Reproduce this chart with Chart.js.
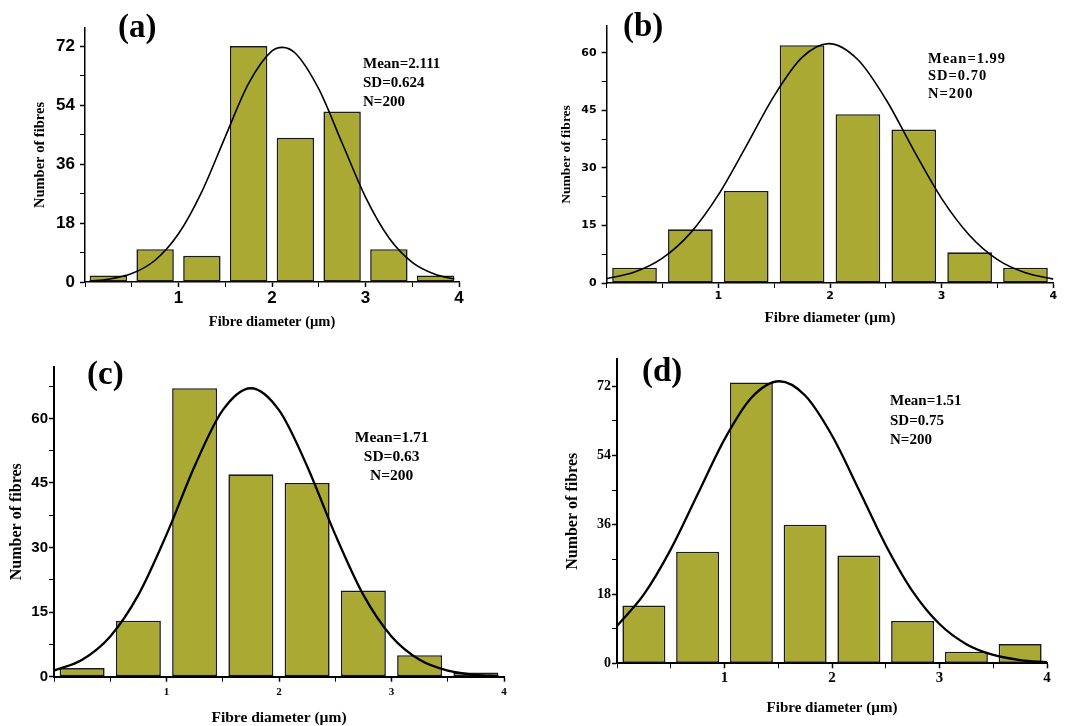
<!DOCTYPE html>
<html><head><meta charset="utf-8">
<script src="https://cdn.jsdelivr.net/npm/chart.js@4.4.1/dist/chart.umd.min.js"></script>
<style>
html,body{margin:0;padding:0;background:#fff;}
#wrap{position:relative;width:1074px;height:726px;overflow:hidden;background:#fff;}
canvas{position:absolute;left:0;top:0;}
.lbl{position:absolute;font-family:"Liberation Serif","Times New Roman",serif;font-weight:bold;color:#000;white-space:nowrap;}
</style></head><body><div id="wrap">
<canvas id="ca" width="1074" height="726"></canvas>
<canvas id="cb" width="1074" height="726"></canvas>
<canvas id="cc" width="1074" height="726"></canvas>
<canvas id="cd" width="1074" height="726"></canvas>
<div class="lbl" style="left:118px;top:10px;font-size:33px;line-height:33px">(a)</div>
<div class="lbl" style="left:623px;top:9px;font-size:33px;line-height:33px">(b)</div>
<div class="lbl" style="left:87px;top:357px;font-size:33px;line-height:33px">(c)</div>
<div class="lbl" style="left:642px;top:354px;font-size:33px;line-height:33px">(d)</div>
<div class="lbl" style="left:363px;top:53.5px;font-size:15px;line-height:19px">Mean=2.111<br>SD=0.624<br>N=200</div>
<div class="lbl" style="left:928px;top:49.5px;font-size:14.5px;line-height:17.5px;letter-spacing:1px">Mean=1.99<br>SD=0.70<br>N=200</div>
<div class="lbl" style="left:331.7px;width:120px;text-align:center;top:427px;font-size:15.5px;line-height:19px">Mean=1.71<br>SD=0.63<br>N=200</div>
<div class="lbl" style="left:890px;top:391px;font-size:15px;line-height:19.5px">Mean=1.51<br>SD=0.75<br>N=200</div>
</div>
<script>
// ---- data ----
const binCenters = [0.25, 0.75, 1.25, 1.75, 2.25, 2.75, 3.25, 3.75];
const countsA = [2, 10, 8, 72, 44, 52, 10, 2];
const countsB = [4, 14, 24, 62, 44, 40, 8, 4];
const countsC = [2, 13, 67, 47, 45, 20, 5, 1];
const countsD = [15, 29, 73, 36, 28, 11, 3, 5];

const fitXA = [0.05, 0.25, 0.5, 0.75, 1.0, 1.25, 1.5, 1.75, 2.0, 2.11, 2.25, 2.5, 2.75, 3.0, 3.25, 3.5, 3.75, 3.95];
const fitYA = [0.31, 0.84, 2.56, 6.64, 14.7, 27.6, 44.3, 60.6, 70.5, 71.6, 69.8, 58.9, 42.4, 25.9, 13.5, 6.0, 2.28, 0.93];
const fitXB = [0, 0.25, 0.5, 0.75, 1.0, 1.25, 1.5, 1.75, 1.99, 2.25, 2.5, 2.75, 3.0, 3.25, 3.5, 3.75, 4.0];
const fitYB = [1.1, 2.84, 6.48, 13.0, 22.96, 35.7, 48.8, 58.8, 62.4, 58.2, 47.9, 34.6, 22.0, 12.4, 6.09, 2.65, 1.01];
const fitXC = [0, 0.25, 0.5, 0.75, 1.0, 1.25, 1.5, 1.75, 2.0, 2.25, 2.5, 2.75, 3.0, 3.25, 3.5, 3.75, 3.95];
const fitYC = [1.42, 3.94, 9.36, 19.0, 33.0, 48.9, 61.9, 67.0, 61.9, 48.9, 33.0, 19.0, 9.36, 3.94, 1.42, 0.43, 0.15];
const fitXD = [0, 0.25, 0.5, 0.75, 1.0, 1.25, 1.51, 1.75, 2.0, 2.25, 2.5, 2.75, 3.0, 3.25, 3.5, 3.75, 4.0];
const fitYD = [9.7, 17.9, 29.6, 43.9, 58.2, 69.0, 73.3, 69.6, 59.2, 45.1, 30.7, 18.7, 10.2, 4.97, 2.17, 0.85, 0.30];

const xTicks = [0, 0.5, 1, 1.5, 2, 2.5, 3, 3.5, 4];
const xTickLabels = ['', '', '1', '', '2', '', '3', '', '4'];
const yTicks72 = [0, 9, 18, 27, 36, 45, 54, 63, 72];
const yTickLabels72 = ['0', '', '18', '', '36', '', '54', '', '72'];
const yTicks60 = [0, 7.5, 15, 22.5, 30, 37.5, 45, 52.5, 60, 67.5];
const yTickLabels60 = ['0', '', '15', '', '30', '', '45', '', '60', ''];

const xTitle = 'Fibre diameter (\u00b5m)';
const yTitle = 'Number of fibres';

const SANS = '"Liberation Sans", Arial, sans-serif';
const WIDE = '"DejaVu Sans", Verdana, sans-serif';
const SERIF = '"Liberation Serif", "Times New Roman", serif';

function makePanel(id, p) {
  const yT = p.yTicks.filter(v => v <= p.ymax);
  const yL = p.yLabels.slice(0, yT.length);
  new Chart(document.getElementById(id), {
    type: 'bar',
    data: {
      datasets: [
        {
          type: 'line',
          data: p.fitX.map((x, i) => ({x: x, y: p.fitY[i]})),
          borderColor: '#000', borderWidth: p.lw, pointRadius: 0,
          cubicInterpolationMode: 'monotone', fill: false, order: 0
        },
        {
          type: 'bar',
          data: binCenters.map((x, i) => ({x: x, y: p.counts[i]})),
          backgroundColor: '#a9a934', borderColor: '#1a1a1a', borderWidth: 1.6,
          borderSkipped: false, barPercentage: 0.8, categoryPercentage: 1, order: 1
        }
      ]
    },
    options: {
      responsive: false, animation: false, devicePixelRatio: 1,
      layout: {padding: {left: p.L - p.Wy, top: p.T, right: 1074 - p.R, bottom: 726 - p.B - p.Hx}},
      plugins: {legend: {display: false}, tooltip: {enabled: false}},
      scales: {
        x: {
          type: 'linear', min: 0, max: 4, offset: false,
          afterBuildTicks: s => { s.ticks = xTicks.map(v => ({value: v})); },
          afterFit: s => { s.height = p.Hx; },
          grid: {display: true, offset: false, drawOnChartArea: false, drawTicks: true, tickLength: 5,
                 tickColor: '#000', tickWidth: c => (xTickLabels[c.index] ? 1.5 : 1)},
          border: {display: true, color: '#000', width: p.bw},
          ticks: {autoSkip: false, maxRotation: 0, padding: p.xPad, color: '#000',
                  font: {family: p.xFont, weight: 'bold', size: p.xSize},
                  callback: (v, i) => xTickLabels[i]},
          title: {display: true, text: xTitle, color: '#000', padding: 0,
                  font: {family: SERIF, weight: 'bold', size: p.xtSize, lineHeight: 1}}
        },
        y: {
          type: 'linear', min: 0, max: p.ymax,
          afterBuildTicks: s => { s.ticks = yT.map(v => ({value: v})); },
          afterFit: s => { s.width = p.Wy; },
          grid: {display: true, drawOnChartArea: false, drawTicks: true, tickLength: 5,
                 tickColor: '#000', tickWidth: c => (yL[c.index] ? 1.5 : 1)},
          border: {display: true, color: '#000', width: p.bw},
          ticks: {padding: p.yPad, color: '#000',
                  font: {family: p.yFont, weight: 'bold', size: p.ySize},
                  callback: (v, i) => yL[i]},
          title: {display: true, text: yTitle, color: '#000', padding: 0,
                  font: {family: SERIF, weight: 'bold', size: p.ytSize, lineHeight: 1}}
        }
      }
    }
  });
}

makePanel('ca', {counts: countsA, fitX: fitXA, fitY: fitYA, yTicks: yTicks72, yLabels: yTickLabels72,
  ymax: 77.5, L: 85, R: 459, T: 28, B: 282, Wy: 52.25, Hx: 47.25, lw: 1.6, bw: 1.5,
  xFont: SANS, xSize: 17, xPad: 1, yFont: SANS, ySize: 17, yPad: 5, xtSize: 14.5, ytSize: 14.5});
makePanel('cb', {counts: countsB, fitX: fitXB, fitY: fitYB, yTicks: yTicks60, yLabels: yTickLabels60,
  ymax: 67, L: 606.6, R: 1053.4, T: 26, B: 283, Wy: 46.35, Hx: 42.5, lw: 1.6, bw: 1.5,
  xFont: WIDE, xSize: 11, xPad: 2, yFont: WIDE, ySize: 11, yPad: 5, xtSize: 15, ytSize: 13.5});
makePanel('cc', {counts: countsC, fitX: fitXC, fitY: fitYC, yTicks: yTicks60, yLabels: yTickLabels60,
  ymax: 72, L: 54, R: 504, T: 366.7, B: 676.7, Wy: 45.3, Hx: 48.75, lw: 2.3, bw: 2,
  xFont: SERIF, xSize: 11, xPad: 3.4, yFont: SANS, ySize: 15, yPad: 1, xtSize: 15.5, ytSize: 16});
makePanel('cd', {counts: countsD, fitX: fitXD, fitY: fitYD, yTicks: yTicks72, yLabels: yTickLabels72,
  ymax: 79, L: 617, R: 1047, T: 359.3, B: 663.3, Wy: 52, Hx: 51.9, lw: 2.3, bw: 2,
  xFont: SERIF, xSize: 15, xPad: 1, yFont: SERIF, ySize: 14, yPad: 1, xtSize: 15, ytSize: 16});
</script>
</body></html>
